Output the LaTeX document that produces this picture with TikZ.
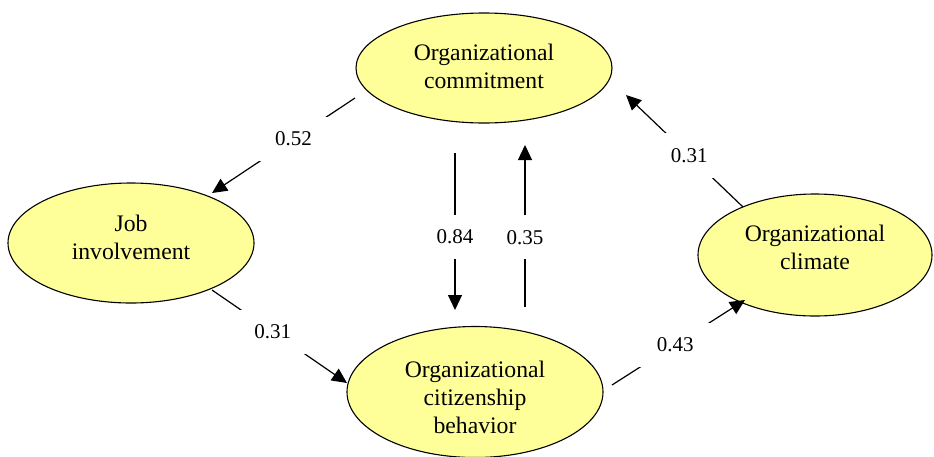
\documentclass[tikz,border=0pt]{standalone}
\usepackage{fontspec}
\setmainfont{Liberation Serif}
\usetikzlibrary{shapes.geometric,arrows.meta,calc}
\definecolor{nodefill}{HTML}{FFFF99}
\tikzset{
  ell/.style={ellipse, draw=black, line width=1.1pt, fill=nodefill, inner sep=0pt},
  ltxt/.style={align=center, inner sep=0pt, font=\fontsize{23.7}{28}\selectfont},
  conn/.style={line width=1.2pt, draw=black},
  arr/.style={conn, -{Triangle[length=15pt,width=14pt]}},
  wt/.style={fill=white, inner xsep=18pt, inner ysep=15pt, font=\fontsize{21}{24}\selectfont}
}
\begin{document}
\begin{tikzpicture}[x=1pt,y=-1pt]
\useasboundingbox (0,0) rectangle (934,456);
\node[ell, minimum width=256pt, minimum height=110pt,
  label={[ltxt, yshift=2pt]center:Organizational\\commitment}] (com) at (484,68) {};
\node[ell, minimum width=246pt, minimum height=120pt,
  label={[ltxt, yshift=5.5pt]center:Job\\involvement}] (job) at (131,243) {};
\node[ell, minimum width=234pt, minimum height=122pt,
  label={[ltxt, yshift=7.5pt]center:Organizational\\climate}] (clim) at (815,255) {};
\node[ell, minimum width=256pt, minimum height=131pt,
  label={[ltxt, yshift=-5pt]center:Organizational\\citizenship\\behavior}] (ocb) at (475,392) {};

\draw[arr] ($(com.center)+(-129,30)$) -- node[wt, pos=0.43] (l1) {0.52} ($(job.center)+(81,-50)$);
\draw[arr] ($(com.center)+(-29,85)$) -- node[wt, pos=0.535] (l2) {0.84} ($(ocb.center)+(-20,-82)$);
\draw[arr] ($(ocb.center)+(50,-85)$) -- node[wt, pos=0.43] (l3) {0.35} ($(com.center)+(41,77)$);
\draw[arr] ($(clim.center)+(-72,-48)$) -- node[wt, pos=0.46] (l4) {0.31} ($(com.center)+(142,27)$);
\draw[arr] ($(job.center)+(81,47)$) -- node[wt, pos=0.45] (l5) {0.31} ($(ocb.center)+(-128,-9)$);
\draw[arr] ($(ocb.center)+(137,-7)$) -- node[wt, pos=0.475] (l6) {0.43} ($(clim.center)+(-70,45)$);
\end{tikzpicture}
\end{document}
